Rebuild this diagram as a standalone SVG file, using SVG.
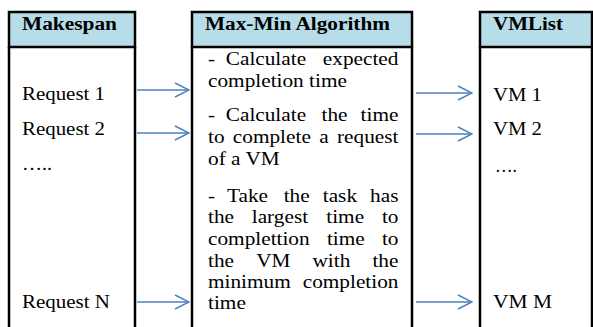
<svg xmlns="http://www.w3.org/2000/svg" width="593" height="327" viewBox="0 0 593 327">
<style>
.hdr{fill:#B7DDE8;stroke:#000;stroke-width:2.5}
.edge{fill:none;stroke:#000;stroke-width:2.5}
.t{font-family:"Liberation Serif","Times New Roman",serif;font-size:18px;fill:#000}
.h{font-family:"Liberation Serif","Times New Roman",serif;font-size:18px;font-weight:bold;fill:#000}
.e{text-anchor:end}
.arr{fill:none;stroke:#4F81BD;stroke-width:1.5}
</style>
<defs>
<marker id="ah" viewBox="0 0 16 16" refX="15" refY="8" markerWidth="16" markerHeight="16" markerUnits="userSpaceOnUse" orient="auto">
<path d="M1,1 L15,8 L1,15" fill="none" stroke="#4F81BD" stroke-width="1.5"/>
</marker>
</defs>
<rect width="593" height="327" fill="#fff"/>
<g id="makespan">
<rect class="hdr" x="9" y="12" width="126" height="35"/>
<path class="edge" d="M9,47 V327 M135,47 V327"/>
<text class="h" x="22" y="30" textLength="95" lengthAdjust="spacingAndGlyphs">Makespan</text>
<text class="t" x="22" y="100" textLength="83" lengthAdjust="spacingAndGlyphs">Request 1</text>
<text class="t" x="22" y="135" textLength="83" lengthAdjust="spacingAndGlyphs">Request 2</text>
<text class="t" x="22" y="170" textLength="30" lengthAdjust="spacingAndGlyphs">…..</text>
<text class="t" x="22" y="308" textLength="88" lengthAdjust="spacingAndGlyphs">Request N</text>
</g>
<g id="maxmin">
<rect class="hdr" x="192" y="12" width="220" height="35"/>
<path class="edge" d="M192,47 V327 M412,47 V327"/>
<text class="h" x="205" y="30" textLength="185" lengthAdjust="spacingAndGlyphs">Max-Min Algorithm</text>
<g transform="translate(208,0) scale(1.183,1)">
<text class="t" y="65"><tspan x="0">-</tspan><tspan x="15">Calculate</tspan></text>
<text class="t e" x="161" y="65">expected</text>
<text class="t" x="0" y="87">completion time</text>
<text class="t" y="121"><tspan x="0">-</tspan><tspan x="15">Calculate</tspan><tspan x="96">the</tspan></text>
<text class="t e" x="161" y="121">time</text>
<text class="t" y="143"><tspan x="0">to</tspan><tspan x="21">complete</tspan><tspan x="94">a</tspan></text>
<text class="t e" x="161" y="143">request</text>
<text class="t" x="0" y="165">of a VM</text>
<text class="t" y="202"><tspan x="0">-</tspan><tspan x="16">Take</tspan><tspan x="64">the</tspan><tspan x="97">task</tspan></text>
<text class="t e" x="161" y="202">has</text>
<text class="t" y="223"><tspan x="0">the</tspan><tspan x="37">largest</tspan><tspan x="100">time</tspan></text>
<text class="t e" x="161" y="223">to</text>
<text class="t" y="245"><tspan x="0">complettion</tspan><tspan x="100.5">time</tspan></text>
<text class="t e" x="161" y="245">to</text>
<text class="t" y="267"><tspan x="0">the</tspan><tspan x="40.7">VM</tspan><tspan x="88.3">with</tspan></text>
<text class="t e" x="161" y="267">the</text>
<text class="t" x="0" y="288">minimum</text>
<text class="t e" x="161" y="288">completion</text>
<text class="t" x="0" y="309">time</text>
</g>
</g>
<g id="vmlist">
<rect class="hdr" x="480" y="12" width="112" height="35"/>
<path class="edge" d="M480,47 V327 M592,47 V327"/>
<text class="h" x="493" y="30" textLength="70" lengthAdjust="spacingAndGlyphs">VMList</text>
<text class="t" x="493" y="101" textLength="49" lengthAdjust="spacingAndGlyphs">VM 1</text>
<text class="t" x="493" y="135" textLength="49" lengthAdjust="spacingAndGlyphs">VM 2</text>
<text class="t" x="495" y="172" textLength="22" lengthAdjust="spacingAndGlyphs">….</text>
<text class="t" x="493" y="308" textLength="59" lengthAdjust="spacingAndGlyphs">VM M</text>
</g>
<g id="connectors">
<line class="arr" x1="137" y1="90" x2="189" y2="90" marker-end="url(#ah)"/>
<line class="arr" x1="137" y1="133" x2="189" y2="133" marker-end="url(#ah)"/>
<line class="arr" x1="137" y1="302" x2="189" y2="302" marker-end="url(#ah)"/>
<line class="arr" x1="416" y1="93" x2="472" y2="93" marker-end="url(#ah)"/>
<line class="arr" x1="416" y1="134" x2="472" y2="134" marker-end="url(#ah)"/>
<line class="arr" x1="416" y1="302" x2="472" y2="302" marker-end="url(#ah)"/>
</g>
</svg>
